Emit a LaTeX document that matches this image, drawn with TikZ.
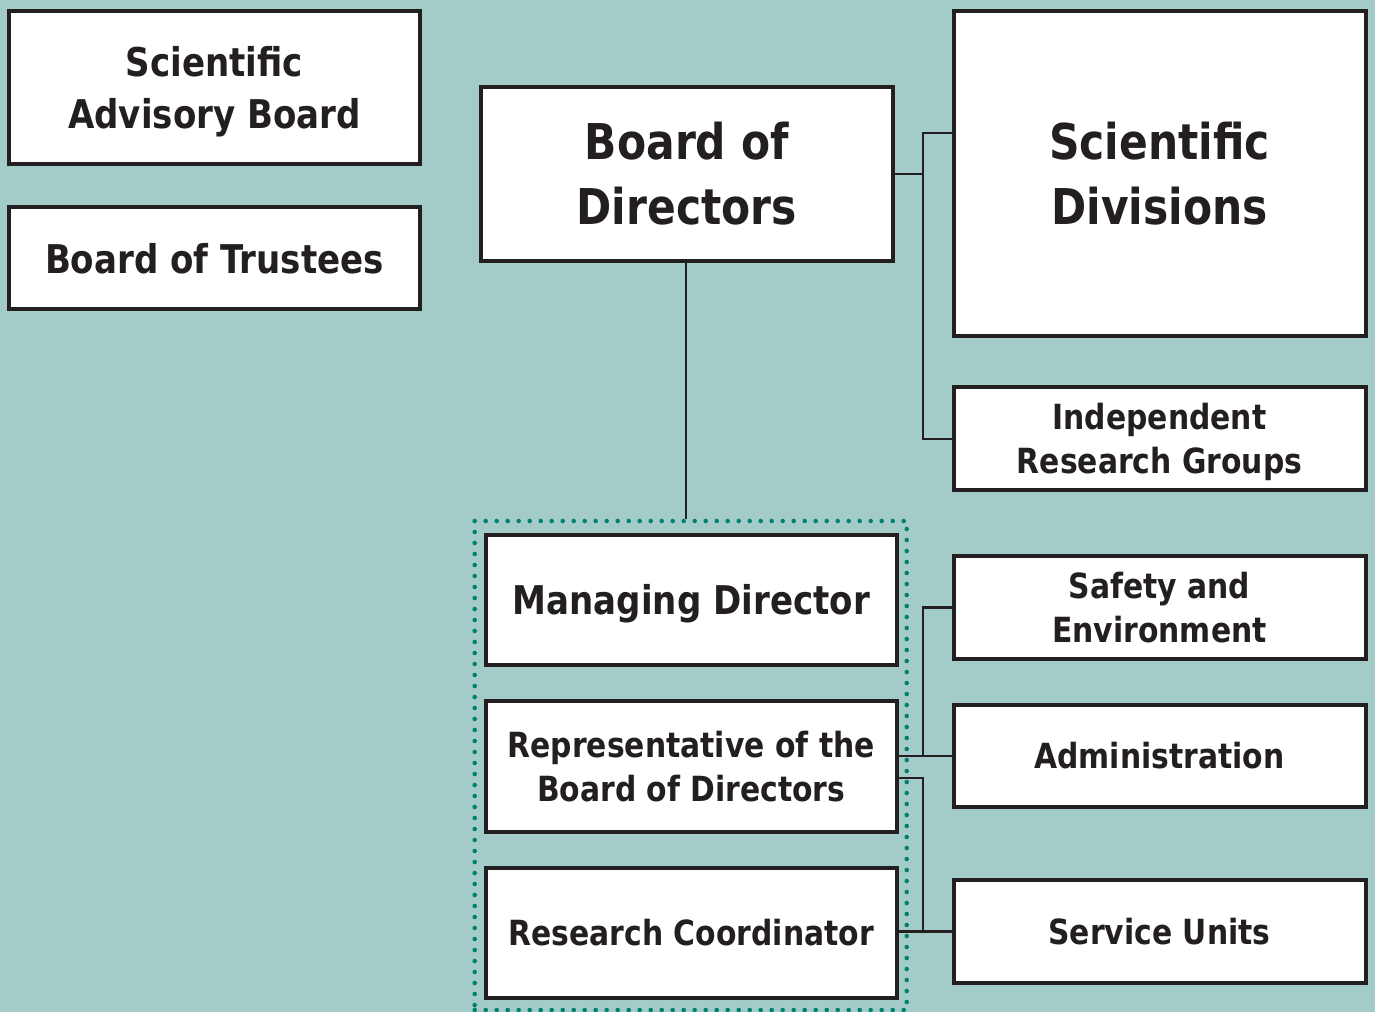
\documentclass[tikz,border=0pt]{standalone}
\usepackage{fontspec}
\newfontfamily\orgfont{DejaVu Sans}[FakeStretch=0.86]
\definecolor{bg}{HTML}{A3CCC9}
\definecolor{ink}{HTML}{231F20}
\definecolor{dotc}{HTML}{00806F}
\def\u{0.75pt}
\tikzset{
  box/.style={draw=ink, line width=3pt, fill=white, inner sep=0pt, align=center, text=ink},
  big/.style={font=\orgfont\bfseries\fontsize{37}{48.75}\selectfont},
  mid/.style={font=\orgfont\bfseries\fontsize{29.7}{39}\selectfont},
  small/.style={font=\orgfont\bfseries\fontsize{26}{33}\selectfont},
  nodesc/.style={text depth=0pt},
  wide/.style={minimum width=412*\u},
  link/.style={draw=ink, line width=1.8pt},
  frame/.style={draw=dotc, line width=3.4pt, line cap=round, dash pattern=on 0pt off 8.25pt}
}
\begin{document}
\begin{tikzpicture}[x=0.75pt, y=-0.75pt]
\fill[bg] (0,0) rectangle (1375,1012);
\useasboundingbox (0,0) rectangle (1375,1012);

% left column
\node[box, mid, nodesc, minimum width=411*\u, minimum height=153*\u] (sab) at (214.5,87.5) {Scientific\\Advisory Board};
\node[box, mid, minimum width=411*\u, minimum height=101.5*\u] (bot) at (214.5,258.25) {Board of Trustees};

% centre column
\node[box, big, wide, minimum height=174*\u] (bod) at (686.8,174) {Board of\\Directors};
\node[frame, minimum width=432*\u, minimum height=489*\u, inner sep=0pt] (mgmt) at (690.7,765.5) {};
\node[box, mid, nodesc, minimum width=411.5*\u, minimum height=130.5*\u] (md) at (691.25,599.75) {Managing Director};
\node[box, small, minimum width=411.5*\u, minimum height=131*\u] (rep) at (691.25,766.5) {Representative of the\\Board of Directors};
\node[box, small, minimum width=411.5*\u, minimum height=130*\u] (rc) at (691.25,932.5) {Research Coordinator};

% right column
\node[box, big, wide, minimum height=325.5*\u] (sd) at (1159.5,173.75) {Scientific\\Divisions};
\node[box, small, nodesc, wide, minimum height=102.5*\u] (irg) at (1159.5,438.75) {Independent\\Research Groups};
\node[box, small, wide, minimum height=103*\u] (saf) at (1159.5,607.5) {Safety and\\Environment};
\node[box, small, wide, minimum height=102*\u] (adm) at (1159.5,756) {Administration};
\node[box, small, wide, minimum height=103*\u] (su) at (1159.5,931.5) {Service Units};

% junction points
\coordinate (jt) at (922.7,133.3);
\coordinate (jb) at (irg.west -| jt);
\coordinate (rj) at (923.2,778);

% connectors
\draw[link] (bod.south -| 685.7,0) -- (mgmt.north -| 685.7,0);
\draw[link] (bod.east) -- (bod.east -| jt);
\draw[link] (sd.west |- jt) -- (jt) -- (jb) -- (irg.west);
\draw[link] (saf.west) -- (saf.west -| jt) -- (adm.west -| jt);
\draw[link] (rep.east |- adm.west) -- (adm.west);
\draw[link] (rep.east |- rj) -- (rj) -- (rj |- su.west);
\draw[link] (rc.east |- su.west) -- (su.west);
\end{tikzpicture}
\end{document}
